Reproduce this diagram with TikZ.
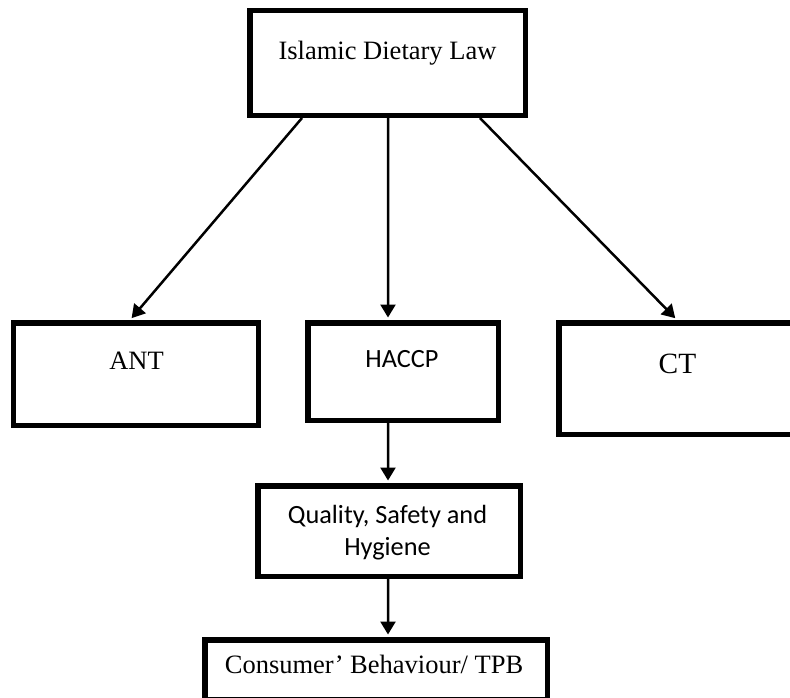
\documentclass[tikz,border=0pt]{standalone}
\usepackage{fontspec}
\setmainfont{Liberation Serif}
\newfontfamily\calibrilike{Carlito}
\usetikzlibrary{arrows.meta,calc,positioning}
\tikzset{
    mybox/.style={draw=black,line width=5.5bp,inner sep=0pt,fill=white},
    myarrow/.style={line width=2.5bp,draw=black,-{Triangle[length=13bp,width=15bp]},shorten >=2.5bp},
    mytext/.style={font=\fontsize{26.6}{32}\selectfont,inner sep=0pt,anchor=base,align=center},
    mysans/.style={mytext,font=\calibrilike\fontsize{26.4}{32}\selectfont}
}

\begin{document}
\begin{tikzpicture}[x=1bp,y=-1bp]
  \fill[white] (0,0) rectangle (790,698);
  \useasboundingbox (0,0) rectangle (790,698);
  % boxes
  \node[mybox,minimum width=275.5bp,minimum height=104.5bp] (law) at (387.5,63) {};
  \node[mybox,minimum width=244.5bp,minimum height=102.5bp] (ant) at (136,374) {};
  \node[mybox,minimum width=190.5bp,minimum height=97.5bp] (haccp) at (403,371.5) {};
  \node[mybox,minimum width=238.5bp,minimum height=111.5bp] (ct) at (678,378.5) {};
  \node[mybox,minimum width=262.5bp,minimum height=90.5bp] (qsh) at (389,531) {};
  \node[mybox,minimum width=342.5bp,minimum height=59.5bp] (tpb) at (376,669.5) {};
  % labels
  \node[mytext] (lawlab) at (387.5,60) {Islamic Dietary Law};
  \node[mytext] (antlab) at (136.5,369) {ANT};
  \node[mysans] (hacclab) at (402,367) {HACCP};
  \node[mytext,font=\fontsize{29.5}{32}\selectfont] (ctlab) at (677.5,373.5) {CT};
  \node[mysans] (qshlab) at (387.5,555) {Quality, Safety and\\Hygiene};
  \node[mytext] (tpblab) at (374,673) {Consumer’ Behaviour/ TPB};
  % arrows
  \foreach \tgt/\dx/\ex in {ant/-85.5/-6, haccp/0.5/-15, ct/92.5/-1}{
    \draw[myarrow] ([xshift=\dx bp]law.south) -- ([xshift=\ex bp]\tgt.north);
  }
  \draw[myarrow] ([xshift=-15bp]haccp.south) -- ([xshift=-1bp]qsh.north);
  \draw[myarrow] ([xshift=-1bp]qsh.south) -- ([xshift=12bp]tpb.north);
\end{tikzpicture}
\end{document}
